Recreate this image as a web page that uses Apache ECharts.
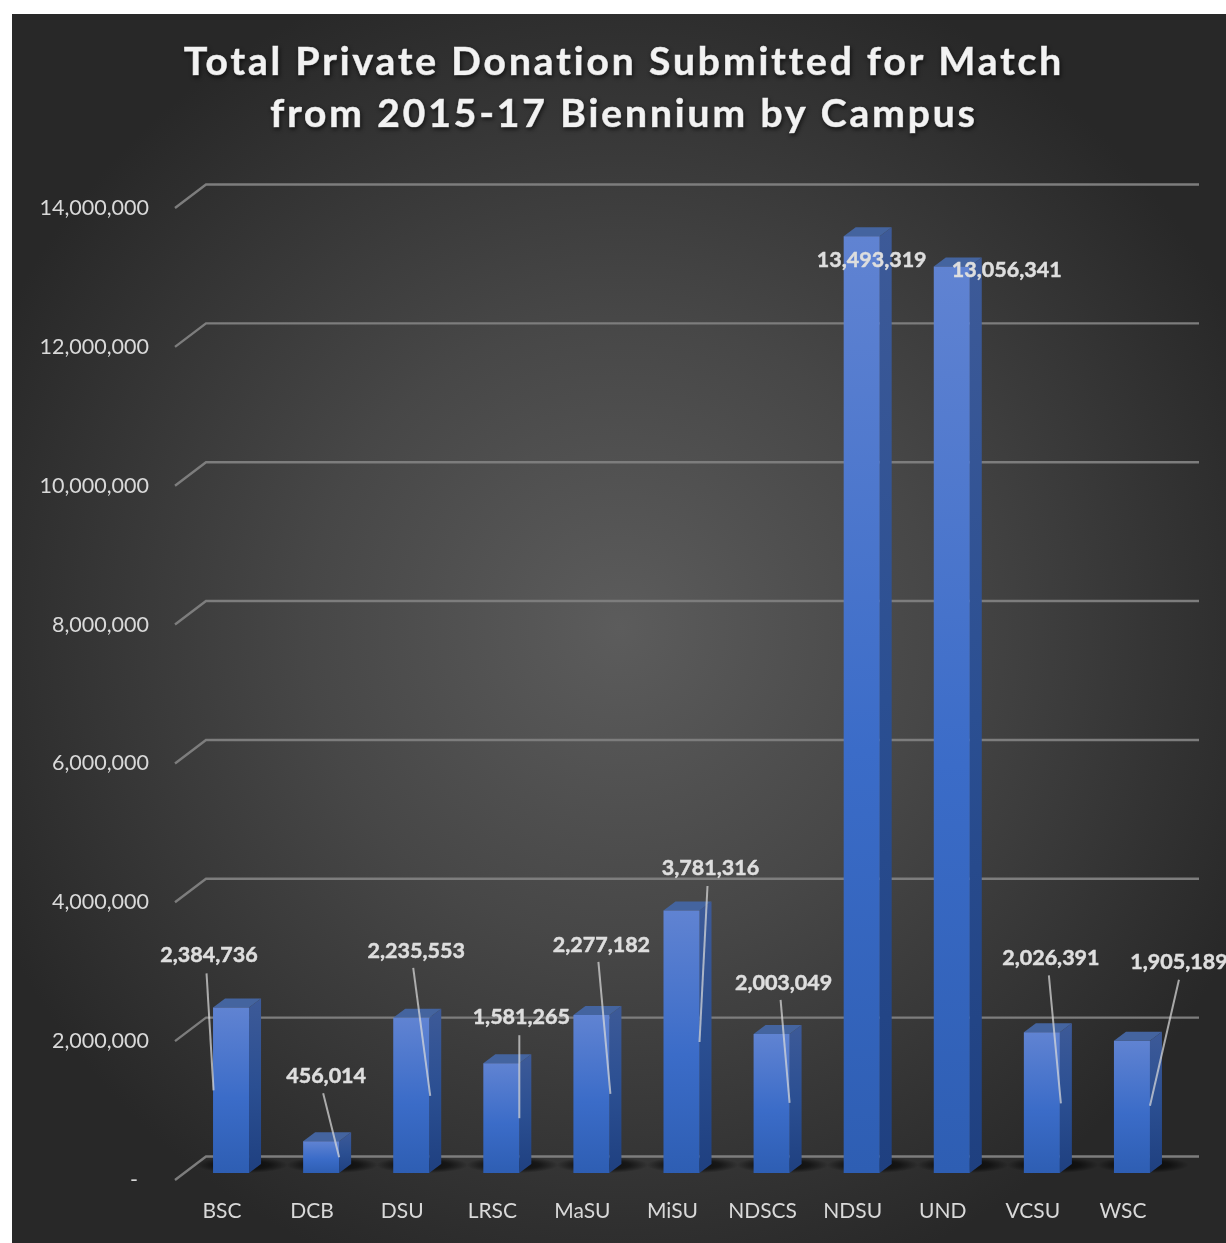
<!DOCTYPE html>
<html><head><meta charset="utf-8">
<style>html,body{margin:0;padding:0;background:#fff}#c{width:1226px;height:1243px}</style>
<script src="https://cdn.jsdelivr.net/npm/echarts@6/dist/echarts.min.js"></script>
</head><body><div id="c"></div>
<script>
const titleText = 'Total Private Donation Submitted for Match\nfrom 2015-17 Biennium by Campus';
const categories = ['BSC','DCB','DSU','LRSC','MaSU','MiSU','NDSCS','NDSU','UND','VCSU','WSC'];
const donations = [2384736,456014,2235553,1581265,2277182,3781316,2003049,13493319,13056341,2026391,1905189];
const yTicks = [0,2000000,4000000,6000000,8000000,10000000,12000000,14000000];

// callout layout relative to each bar's front-top-centre: label dx,dy, leader start dx,dy, leader end dx,dy
const callouts = [
  [-22,-52,-24.5,-34,-17.5,83],[5,-65,2,-48,18,16],[5,-67,2,-50,19,78],[20,-46,18,-28,18,55],
  [10,-70,7,-53,19,79],[29,-42.5,26,-24.5,18,131.5],[12,-51,9,-34,18,69],[10,24],[55,3.5],
  [9,-74,7,-57,19,71],[47,-79,47,-61,18,65]
];
const G = {left:177,top:208,width:991,height:972};
const wall = {dx:31,dy:-23.5,start:-2,right:1199};
const bar = {shiftX:9,shiftY:-7,w:36,depthX:12,depthY:-9};
const fmt = v => v.toLocaleString('en-US');
const LG = (a) => new echarts.graphic.LinearGradient(0,0,0,1,a);

// the title is letter-spaced in the reference; canvas text spacing is applied for its font only
const TITLE_FONT_SIZE = 39, TITLE_SPACING = '2.9px';
['fillText','strokeText'].forEach(name=>{
  const orig = CanvasRenderingContext2D.prototype[name];
  CanvasRenderingContext2D.prototype[name] = function(...a){
    const prev = this.letterSpacing;
    this.letterSpacing = this.font.includes(TITLE_FONT_SIZE+'px') ? TITLE_SPACING : '0px';
    const r = orig.apply(this,a);
    this.letterSpacing = prev;
    return r;
  };
});

const chart = echarts.init(document.getElementById('c'),null,{renderer:'canvas'});
chart.setOption({
  animation:false,
  backgroundColor:'#ffffff',
  textStyle:{fontFamily:'Lato'},
  graphic:[{type:'rect',z:-10,silent:true,shape:{x:12,y:14,width:1214,height:1229},
    style:{fill:new echarts.graphic.RadialGradient(620,628,690,[
      {offset:0,color:'#5c5c5c'},{offset:0.45,color:'#474747'},{offset:1,color:'#282828'}],true)}}],
  title:{text:titleText,left:619,top:31,textAlign:'center',
    textStyle:{fontFamily:'Lato',fontWeight:'bold',fontSize:TITLE_FONT_SIZE,lineHeight:52,color:'#f2f2f2',
      textBorderColor:'#f2f2f2',textBorderWidth:0.7,
      textShadowColor:'rgba(0,0,0,0.6)',textShadowBlur:4,textShadowOffsetX:1,textShadowOffsetY:2}},
  grid:G,
  xAxis:{type:'category',data:categories,axisLine:{show:false},axisTick:{show:false},splitLine:{show:false},
    axisLabel:{color:'#d9d9d9',fontSize:21,margin:21,fontFamily:'Lato',interval:0}},
  yAxis:{type:'value',min:0,max:14000000,interval:2000000,axisLine:{show:false},axisTick:{show:false},splitLine:{show:false},
    axisLabel:{color:'#d9d9d9',fontSize:21.5,margin:28,fontFamily:'Lato',
      formatter:v=>v===0?'-  ':fmt(v)}},
  series:[
   {type:'custom',z:1,silent:true,data:yTicks.map(v=>[0,v]),clip:false,
    renderItem(p,api){
      const y=api.coord([0,api.value(1)])[1];
      const x0=G.left+wall.start,x1=x0+wall.dx,y1=y+wall.dy;
      return {type:'polyline',shape:{points:[[x0,y],[x1,y1],[wall.right,y1]]},
        style:{fill:null,stroke:'#7d7d7d',lineWidth:2.4}};
    }},
   {type:'custom',z:2,silent:true,data:donations.map((v,i)=>[i,v]),clip:false,
    renderItem(p,api){
      const base=api.coord([api.value(0),0]);
      const cx=base[0]+bar.shiftX,by=base[1]+bar.shiftY;
      return {type:'circle',x:cx+11,y:by-8,scaleX:1,scaleY:0.18,shape:{cx:0,cy:0,r:46},
        style:{fill:new echarts.graphic.RadialGradient(0.5,0.5,0.5,[
          {offset:0,color:'rgba(0,0,0,0.8)'},{offset:0.6,color:'rgba(0,0,0,0.55)'},{offset:1,color:'rgba(0,0,0,0)'}])}};
    }},
   {type:'custom',z:3,silent:true,data:donations.map((v,i)=>[i,v]),clip:false,
    renderItem(p,api){
      const i=api.value(0),v=api.value(1);
      const base=api.coord([i,0]),top=api.coord([i,v]);
      const l=base[0]+bar.shiftX-bar.w/2,r=l+bar.w,by=base[1]+bar.shiftY,ty=top[1]+bar.shiftY;
      const dx=bar.depthX,dy=bar.depthY;
      return {type:'group',children:[
        {type:'polygon',shape:{points:[[r,ty],[r+dx,ty+dy],[r+dx,by+dy],[r,by]]},
          style:{fill:LG([{offset:0,color:'#3d5a98'},{offset:0.5,color:'#2b4f92'},{offset:1,color:'#1f4080'}])}},
        {type:'polygon',shape:{points:[[l,ty],[l+dx,ty+dy],[r+dx,ty+dy],[r,ty]]},style:{fill:'#44649f'}},
        {type:'rect',shape:{x:l,y:ty,width:bar.w,height:by-ty},
          style:{fill:LG([{offset:0,color:'#6083d2'},{offset:0.55,color:'#3b6cc8'},{offset:1,color:'#2e5eb3'}])}}
      ]};
    }},
   {type:'custom',z:5,silent:true,data:donations.map((v,i)=>[i,v]),clip:false,
    renderItem(p,api){
      const i=api.value(0),v=api.value(1);
      const base=api.coord([i,0]),top=api.coord([i,v]);
      const cx=base[0]+bar.shiftX,ty=top[1]+bar.shiftY;
      const c=callouts[i],kids=[];
      if(c.length>2) kids.push({type:'line',shape:{x1:cx+c[2],y1:ty+c[3],x2:cx+c[4],y2:ty+c[5]},
        style:{stroke:'rgba(217,217,217,0.72)',lineWidth:2}});
      kids.push({type:'text',x:cx+c[0],y:ty+c[1],style:{text:fmt(v),fill:'#dedede',stroke:'#dedede',lineWidth:0.5,
        font:'bold 21.5px Lato',align:'center',verticalAlign:'middle'}});
      return {type:'group',children:kids};
    }}
  ]
});
</script></body></html>
